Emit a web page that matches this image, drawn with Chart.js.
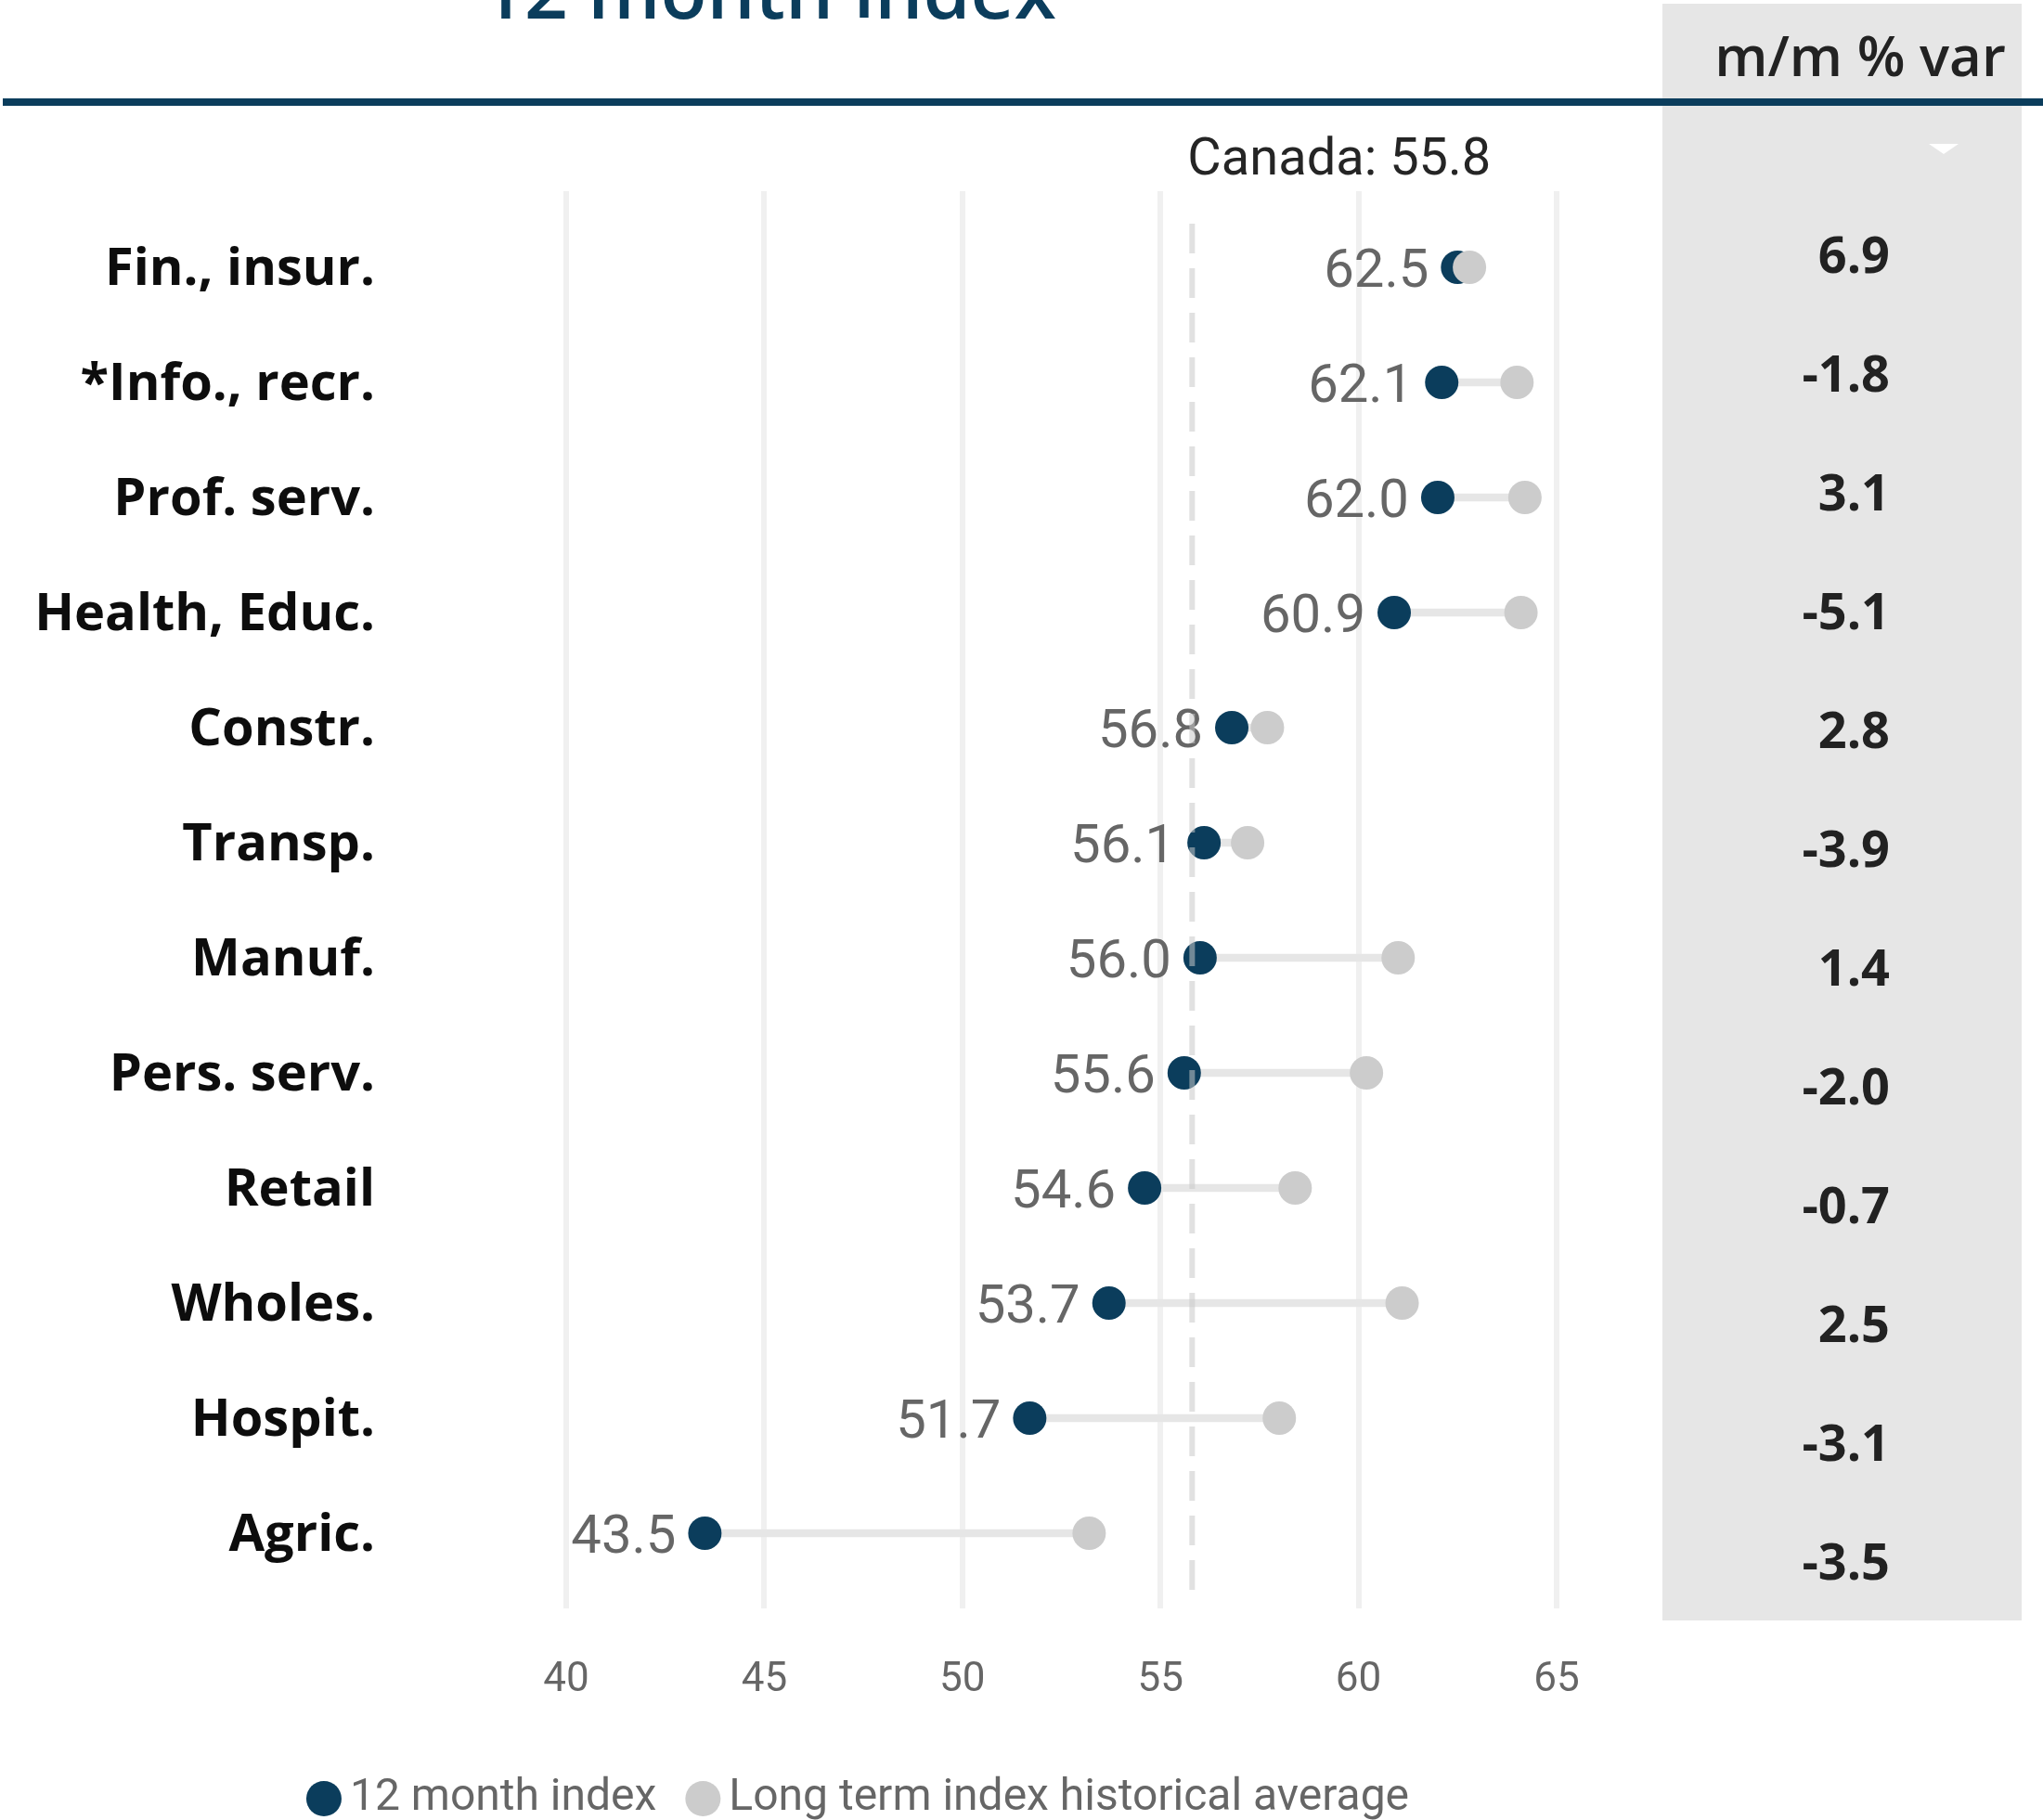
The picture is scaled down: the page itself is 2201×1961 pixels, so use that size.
<!DOCTYPE html>
<html>
<head>
<meta charset="utf-8">
<style>
  html, body { margin: 0; padding: 0; background: #ffffff; }
  #wrap { position: relative; width: 2201px; height: 1961px; overflow: hidden; }
  canvas { display: block; }
</style>
<script src="https://cdn.jsdelivr.net/npm/chart.js@4.4.1/dist/chart.umd.min.js"></script>
</head>
<body>
<div id="wrap"><canvas id="chart" width="2201" height="1961"></canvas></div>
<script>
// Industry sectors, top to bottom
const categories = ['Fin., insur.', '*Info., recr.', 'Prof. serv.', 'Health, Educ.', 'Constr.', 'Transp.',
  'Manuf.', 'Pers. serv.', 'Retail', 'Wholes.', 'Hospit.', 'Agric.'];
// 12 month index by sector
const index12m = [62.5, 62.1, 62.0, 60.9, 56.8, 56.1, 56.0, 55.6, 54.6, 53.7, 51.7, 43.5];
// Long term historical average of the index
const longTermAvg = [62.8, 64.0, 64.2, 64.1, 57.7, 57.2, 61.0, 60.2, 58.4, 61.1, 58.0, 53.2];
// Month-over-month % variation (side table)
const monthlyVar = ['6.9', '-1.8', '3.1', '-5.1', '2.8', '-3.9', '1.4', '-2.0', '-0.7', '2.5', '-3.1', '-3.5'];
// National reference value
const canadaIndex = 55.8;
// Axis ticks
const xTicks = [40, 45, 50, 55, 60, 65];
const seriesNames = ['12 month index', 'Long term index historical average'];

const NAVY = '#0b3d5c';
const DOT_GREY = '#cccccc';
const STEM_GREY = '#e6e6e6';
const LABEL_GREY = '#666666';
const NUM_FONT = 'Roboto, "Liberation Sans", sans-serif';
const HEAD_FONT = '"Open Sans", "Noto Sans", sans-serif';

// range between the two values, drawn as a thin connecting bar
const stems = index12m.map((v, i) => [Math.min(v, longTermAvg[i]), Math.max(v, longTermAvg[i])]);

const decorations = {
  id: 'decorations',
  beforeDraw(chart) {
    const { ctx, chartArea } = chart;
    const xs = chart.scales.x;
    ctx.save();
    // side table background
    ctx.fillStyle = '#e6e6e6';
    ctx.fillRect(1791, 4, 387, 1742);
    // vertical gridlines at the tick values
    ctx.strokeStyle = '#f0f0f0';
    ctx.lineWidth = 6;
    xTicks.forEach(t => {
      const px = Math.round(xs.getPixelForValue(t));
      ctx.beginPath();
      ctx.moveTo(px, chartArea.top - 20);
      ctx.lineTo(px, chartArea.bottom + 19);
      ctx.stroke();
    });
    ctx.restore();
  },
  afterDatasetsDraw(chart) {
    const { ctx, chartArea } = chart;
    const xs = chart.scales.x;
    ctx.save();
    // value labels to the left of the 12 month index dots
    const meta = chart.getDatasetMeta(2);
    ctx.fillStyle = LABEL_GREY;
    ctx.font = '400 58px ' + NUM_FONT;
    ctx.textAlign = 'right';
    ctx.textBaseline = 'alphabetic';
    meta.data.forEach((pt, i) => {
      ctx.fillText(index12m[i].toFixed(1), pt.x - 31, pt.y + 21);
    });
    // national reference line
    const cx = xs.getPixelForValue(canadaIndex);
    ctx.strokeStyle = 'rgba(200,200,200,0.55)';
    ctx.lineWidth = 6;
    ctx.setLineDash([32, 16]);
    ctx.beginPath();
    ctx.moveTo(cx, chartArea.top + 15);
    ctx.lineTo(cx, chartArea.bottom + 6);
    ctx.stroke();
    ctx.setLineDash([]);
    ctx.fillStyle = '#252525';
    ctx.font = '400 56px ' + NUM_FONT;
    ctx.textAlign = 'left';
    ctx.textBaseline = 'alphabetic';
    ctx.fillText('Canada: ' + canadaIndex.toFixed(1), cx - 5, 188);
    ctx.restore();
  },
  afterDraw(chart) {
    const ctx = chart.ctx;
    ctx.save();
    // heading
    ctx.fillStyle = NAVY;
    ctx.font = '600 82px ' + HEAD_FONT;
    ctx.textAlign = 'center';
    ctx.textBaseline = 'alphabetic';
    ctx.fillText('12 month index', 828, 20);
    // rule under the heading
    ctx.fillStyle = NAVY;
    ctx.fillRect(3, 106, 2198, 8);
    // side table
    ctx.fillStyle = '#222222';
    ctx.font = '600 60px ' + HEAD_FONT;
    ctx.textAlign = 'center';
    ctx.textBaseline = 'alphabetic';
    ctx.fillText('m/m % var', 2004, 82);
    ctx.fillStyle = '#ffffff';
    ctx.beginPath();
    ctx.moveTo(2078, 155);
    ctx.lineTo(2110, 155);
    ctx.lineTo(2094, 166);
    ctx.closePath();
    ctx.fill();
    ctx.fillStyle = '#222222';
    ctx.font = '700 54px ' + HEAD_FONT;
    ctx.textAlign = 'right';
    monthlyVar.forEach((v, i) => {
      ctx.fillText(v, 2036, 294 + i * 128);
    });
    // legend
    ctx.font = '400 48px ' + NUM_FONT;
    const colors = [NAVY, DOT_GREY];
    const r = 19, gapText = 9, gapItem = 31;
    const widths = seriesNames.map(s => ctx.measureText(s).width);
    const total = widths.reduce((a, w) => a + 2 * r + gapText + w, 0) + gapItem;
    let lx = 924 - total / 2;
    const ly = 1938;
    ctx.textAlign = 'left';
    ctx.textBaseline = 'middle';
    seriesNames.forEach((s, i) => {
      ctx.fillStyle = colors[i];
      ctx.beginPath();
      ctx.arc(lx + r, ly, r, 0, Math.PI * 2);
      ctx.fill();
      ctx.fillStyle = LABEL_GREY;
      ctx.fillText(s, lx + 2 * r + gapText, ly);
      lx += 2 * r + gapText + widths[i] + gapItem;
    });
    ctx.restore();
  }
};

new Chart(document.getElementById('chart'), {
  type: 'bar',
  data: {
    labels: categories,
    datasets: [
      {
        type: 'line',
        label: seriesNames[1],
        data: longTermAvg,
        indexAxis: 'y',
        showLine: false,
        pointRadius: 18,
        pointHoverRadius: 18,
        pointBorderWidth: 0,
        pointBackgroundColor: DOT_GREY,
        borderColor: DOT_GREY,
        order: 0
      },
      {
        type: 'bar',
        label: 'range',
        data: stems,
        backgroundColor: STEM_GREY,
        barThickness: 8,
        borderSkipped: false,
        order: 2
      },
      {
        type: 'line',
        label: seriesNames[0],
        data: index12m,
        indexAxis: 'y',
        showLine: false,
        pointRadius: 18,
        pointHoverRadius: 18,
        pointBorderWidth: 0,
        pointBackgroundColor: NAVY,
        borderColor: NAVY,
        order: 1
      }
    ]
  },
  options: {
    indexAxis: 'y',
    responsive: false,
    animation: false,
    devicePixelRatio: 1,
    layout: { padding: { left: 0, right: 524, top: 226, bottom: 127 } },
    plugins: { legend: { display: false }, tooltip: { enabled: false } },
    scales: {
      x: {
        type: 'linear',
        min: 40,
        max: 65,
        grid: { display: false, drawTicks: false },
        border: { display: false },
        afterBuildTicks(scale) { scale.ticks = xTicks.map(v => ({ value: v })); },
        afterFit(scale) { scale.height = 120; scale.paddingLeft = 0; scale.paddingRight = 0; },
        ticks: {
          color: LABEL_GREY,
          font: { family: NUM_FONT, size: 44 },
          padding: 71
        }
      },
      y: {
        type: 'category',
        grid: { display: false, drawTicks: false },
        border: { display: false },
        afterFit(scale) { scale.width = 610; scale.paddingTop = 0; scale.paddingBottom = 0; },
        ticks: {
          color: '#0d0d0d',
          font: { family: HEAD_FONT, size: 56, weight: '700' },
          padding: 206,
          labelOffset: 3
        }
      }
    }
  },
  plugins: [decorations]
});
</script>
</body>
</html>
